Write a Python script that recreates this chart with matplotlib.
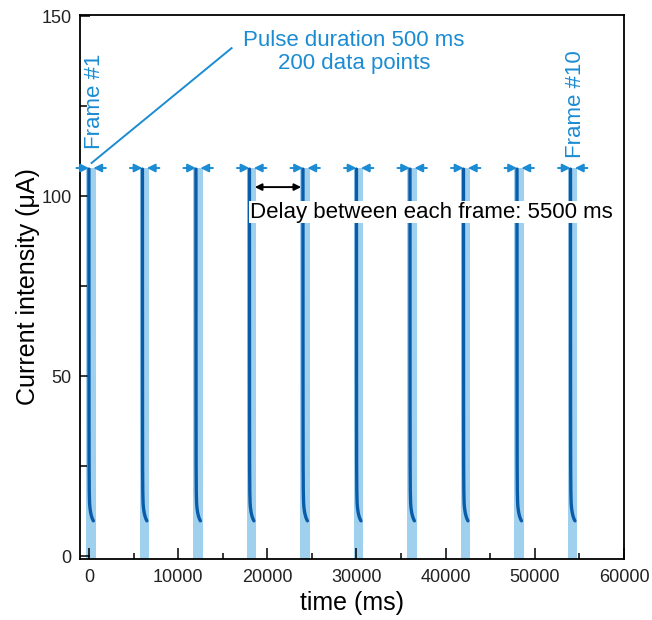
import matplotlib
matplotlib.use("Agg")
import matplotlib.pyplot as plt
from matplotlib.ticker import MultipleLocator

plt.rcParams['font.family'] = ['Liberation Sans', 'DejaVu Sans']

# start time of each frame (ms)
frame_starts = [0, 6000, 12000, 18000, 24000, 30000, 36000, 42000, 48000, 54000]
# one current transient, time offset inside the pulse (ms) and current (uA)
pulse_t = [0, 5, 10, 20, 40, 70, 100, 150, 200, 300, 400, 500]
pulse_i = [107.5, 60, 40, 25, 18, 15, 13.8, 12.8, 12, 11, 10.3, 9.8]
pulse_len = 500
delay = 5500
marker_level = 107.8

light = '#9fd0ee'
dark = '#0b5ca8'
blue = '#1b8cd3'

fig = plt.figure(figsize=(6.52, 6.20), dpi=100)
ax = fig.add_axes([80 / 652, 1 - 559 / 620, 544 / 652, 544 / 620])

for t in frame_starts:
    ax.bar(t + 225, marker_level + 1, bottom=-1, width=1050, color=light, zorder=1)
    ax.plot([t + x for x in pulse_t], pulse_i, color=dark, lw=2.4,
            solid_capstyle='round', zorder=3)
    # pulse duration markers
    ax.annotate('', xy=(t, marker_level), xytext=(t - 1400, marker_level),
                arrowprops=dict(arrowstyle='-|>', color=blue, lw=1.4,
                                mutation_scale=12, shrinkA=0, shrinkB=0), zorder=4)
    ax.annotate('', xy=(t + pulse_len, marker_level), xytext=(t + 1900, marker_level),
                arrowprops=dict(arrowstyle='-|>', color=blue, lw=1.4,
                                mutation_scale=12, shrinkA=0, shrinkB=0), zorder=4)

# delay arrow between frame 4 and 5
d0 = frame_starts[3] + pulse_len + 100
ax.annotate('', xy=(d0, 102.5), xytext=(d0 + delay - 300, 102.5),
            arrowprops=dict(arrowstyle='<|-|>', color='black', lw=1.4,
                            mutation_scale=10, shrinkA=0, shrinkB=0))
ax.text(38400, 95.5, 'Delay between each frame: 5500 ms', fontsize=16,
        ha='center', va='center', color='black', zorder=5,
        bbox=dict(facecolor='white', edgecolor='none', pad=0.5))

ax.text(29700, 140, 'Pulse duration 500 ms\n200 data points', fontsize=16,
        ha='center', va='center', color=blue, linespacing=1.15)
ax.plot([300, 16000], [109.2, 141.1], color=blue, lw=1.4)

ax.text(640, 126.4, 'Frame #1', fontsize=16, rotation=90,
        ha='center', va='center', color=blue)
ax.text(54560, 125.5, 'Frame #10', fontsize=16, rotation=90,
        ha='center', va='center', color=blue)

ax.set_xlim(-1000, 60000)
ax.set_ylim(-0.8, 150.3)
ax.xaxis.set_major_locator(MultipleLocator(10000))
ax.xaxis.set_minor_locator(MultipleLocator(5000))
ax.yaxis.set_major_locator(MultipleLocator(50))
ax.yaxis.set_minor_locator(MultipleLocator(25))
ax.tick_params(which='both', direction='in', labelsize=13, width=1.1,
               labelcolor='#222222')
ax.tick_params(axis='x', which='major', length=8, pad=7)
ax.tick_params(axis='x', which='minor', length=4)
ax.tick_params(axis='y', which='major', length=7, pad=6)
ax.tick_params(axis='y', which='minor', length=5)
for s in ax.spines.values():
    s.set_linewidth(1.3)

ax.set_xlabel('time (ms)', fontsize=18, labelpad=4)
ax.set_ylabel('Current intensity (μA)', fontsize=18, labelpad=1)

fig.savefig('out.png', dpi=100)
